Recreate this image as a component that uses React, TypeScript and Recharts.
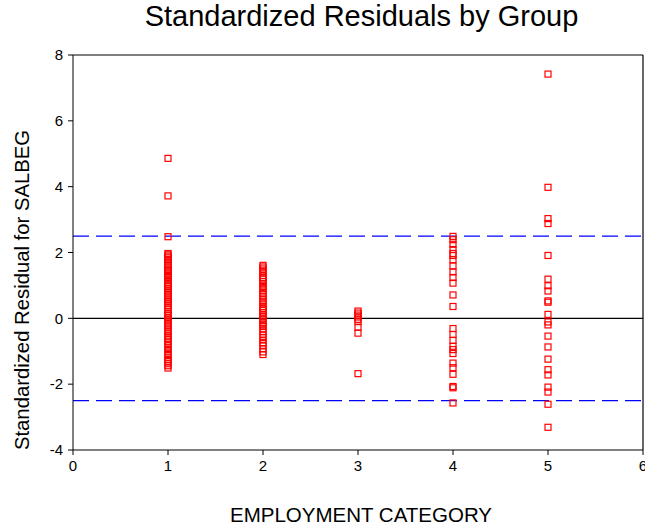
import { ScatterChart, Scatter, XAxis, YAxis, ReferenceLine } from "recharts"

const categories = [1, 2, 3, 4, 5]

const group1 = [
  4.86, 3.72, 2.48, 1.97, 1.93, 1.89, 1.84, 1.79, 1.74, 1.68, 1.62, 1.56, 1.5, 1.45, 1.41, 1.35, 1.3, 1.24,
  1.19, 1.14, 1.08, 1.02, 0.97, 0.91, 0.86, 0.8, 0.74, 0.68, 0.62, 0.56, 0.51, 0.46, 0.4, 0.34, 0.28, 0.2,
  0.14, 0.08, 0.03, -0.02, -0.08, -0.14, -0.2, -0.26, -0.33, -0.4, -0.47, -0.54, -0.6, -0.65, -0.72, -0.8,
  -0.88, -0.95, -1.02, -1.1, -1.18, -1.25, -1.31, -1.38, -1.44, -1.51,
]
const group2 = [
  1.61, 1.56, 1.5, 1.44, 1.38, 1.3, 1.24, 1.19, 1.12, 1.05, 0.97, 0.9, 0.83, 0.75, 0.67, 0.59, 0.52, 0.44,
  0.36, 0.3, 0.24, 0.17, 0.1, 0.04, -0.03, -0.12, -0.18, -0.25, -0.33, -0.41, -0.5, -0.58, -0.66, -0.74,
  -0.82, -0.93, -1.02, -1.1,
]
const group3 = [0.22, 0.16, 0.1, 0.04, -0.03, -0.1, -0.27, -0.45, -1.68]
const group4 = [
  2.49, 2.39, 2.25, 2.09, 1.97, 1.91, 1.78, 1.59, 1.41, 1.24, 1.07, 0.71, 0.36, -0.31, -0.49, -0.67, -0.85,
  -0.95, -1.07, -1.36, -1.5, -1.7, -2.07, -2.11, -2.57,
]
const group5 = [
  7.42, 3.98, 3.03, 2.88, 1.91, 1.19, 0.99, 0.83, 0.53, 0.49, 0.12, -0.11, -0.2, -0.54, -0.87, -1.24, -1.56,
  -1.72, -2.09, -2.24, -2.61, -3.31,
]

const groups = [group1, group2, group3, group4, group5]

const xTicks = [0, 1, 2, 3, 4, 5, 6]
const yTicks = [-4, -2, 0, 2, 4, 6, 8]
const cutoffs = [2.5, -2.5]

const points = groups.flatMap((vals, i) => vals.map((v) => ({ x: categories[i], y: v })))

const font = "Arial, 'Liberation Sans', sans-serif"

const SquareShape = (props: any) => {
  const { cx, cy } = props
  if (cx == null || cy == null) return null
  return <rect x={cx - 3} y={cy - 3} width={6} height={6} fill="none" stroke="#ff0000" strokeWidth={1.2} />
}

export default function App() {
  return (
    <div style={{ position: "absolute", left: 0, top: 0, width: 645, height: 527, background: "#fff", fontFamily: font }}>
      <div
        style={{
          position: "absolute",
          left: 0,
          width: 723,
          top: 0,
          textAlign: "center",
          fontSize: 29,
          color: "#000",
          whiteSpace: "nowrap",
        }}
      >
        Standardized Residuals by Group
      </div>
      <div
        style={{
          position: "absolute",
          left: 22,
          top: 290,
          transform: "translate(-50%, -50%) rotate(-90deg)",
          whiteSpace: "nowrap",
          fontSize: 20.3,
          color: "#000",
        }}
      >
        Standardized Residual for SALBEG
      </div>
      <div
        style={{
          position: "absolute",
          left: 0,
          width: 722,
          top: 503,
          textAlign: "center",
          fontSize: 20.5,
          color: "#000",
          whiteSpace: "nowrap",
        }}
      >
        EMPLOYMENT CATEGORY
      </div>
      <div style={{ position: "absolute", left: 0, top: 0 }}>
        <ScatterChart width={645} height={527} margin={{ top: 55, right: 2, bottom: 47, left: 0 }}>
          <XAxis
            type="number"
            dataKey="x"
            domain={[0, 6]}
            ticks={xTicks}
            interval={0}
            height={30}
            stroke="#000"
            tickSize={5}
            tickMargin={5}
            tick={{ fill: "#000", fontSize: 15, fontFamily: font }}
            allowDataOverflow
          />
          <YAxis
            type="number"
            dataKey="y"
            domain={[-4, 8]}
            ticks={yTicks}
            interval={0}
            width={73}
            stroke="#000"
            tickSize={5}
            tickMargin={5}
            tick={{ fill: "#000", fontSize: 15, fontFamily: font }}
            allowDataOverflow
          />
          <ReferenceLine y={8} stroke="#000" strokeWidth={1.2} />
          <ReferenceLine x={6} stroke="#000" strokeWidth={1.2} />
          <ReferenceLine y={0} stroke="#000" strokeWidth={1.2} />
          {cutoffs.map((c) => (
            <ReferenceLine key={c} y={c} stroke="#0000ff" strokeWidth={1.3} strokeDasharray="16 7" />
          ))}
          <Scatter data={points} shape={<SquareShape />} isAnimationActive={false} />
        </ScatterChart>
      </div>
    </div>
  )
}
